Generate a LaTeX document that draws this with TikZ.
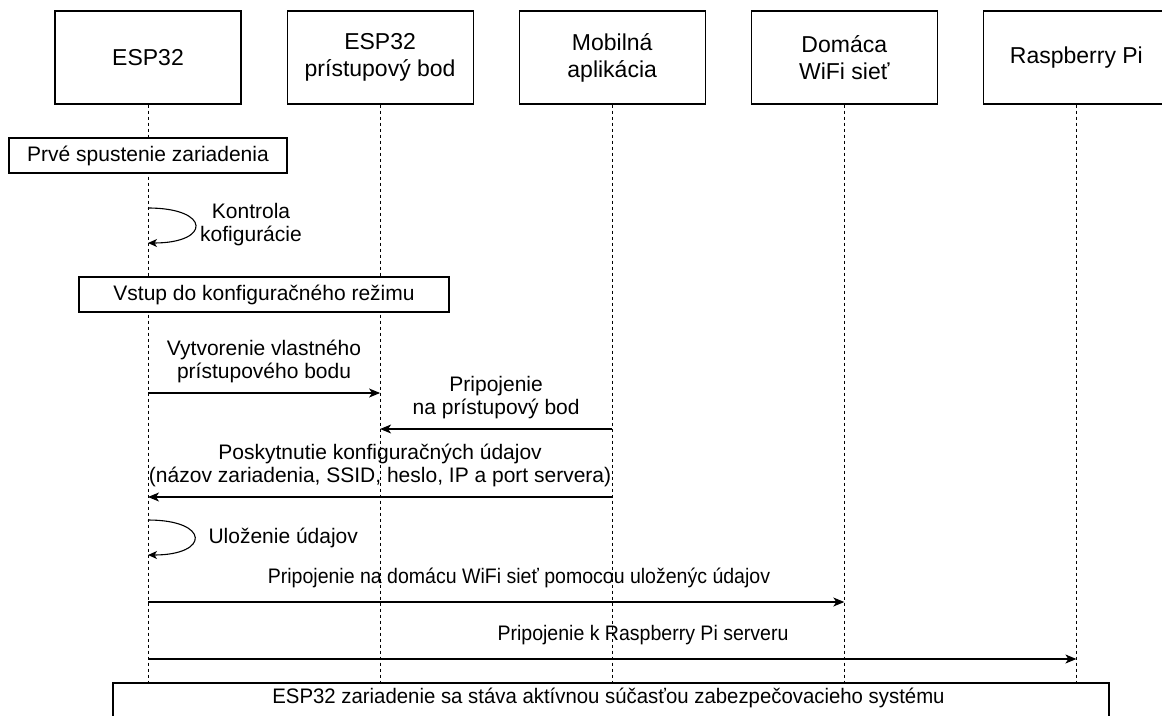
\documentclass[tikz,border=0pt]{standalone}
\usepackage{fontspec}
\setmainfont{Liberation Sans}
\usetikzlibrary{arrows.meta,positioning}

\begin{document}
\begin{tikzpicture}[x=1pt, y=-1pt, line width=1.1pt,
head/.style={draw, minimum width=186pt, minimum height=93pt, inner sep=0pt, align=center, font=\fontsize{23}{27}\selectfont},
note/.style={draw, fill=white, minimum height=35pt, inner sep=0pt, font=\fontsize{21}{23}\selectfont},
life/.style={line width=0.9pt, dash pattern=on 3pt off 3pt},
msg/.style={-{Stealth[length=11pt,width=9pt,inset=3pt]}},
self/.style={-{Stealth[length=9pt,width=8pt,inset=2.5pt]}},
lbl/.style={align=center, inner sep=0pt, font=\fontsize{21}{23}\selectfont}]
\useasboundingbox (0,0) rectangle (1162,715);
% participants
\node[head] (esp) at (148,57.5) {ESP32};
\node[head, right=45pt of esp] (ap) {ESP32\\prístupový bod};
\node[head, right=45pt of ap] (app) {Mobilná\\aplikácia};
\node[head, right=45pt of app] (wifi) {Domáca\\WiFi sieť};
\node[head, right=45pt of wifi] (rpi) {Raspberry Pi};
\coordinate (bot) at (0,690);
\foreach \p in {esp,ap,app,wifi,rpi}
    \draw[life] (\p.south) -- (\p.south |- bot);
% rows of the messages
\coordinate (l1a) at (0,208); \coordinate (l1b) at (0,243);
\coordinate (m1) at (0,393); \coordinate (m2) at (0,429);
\coordinate (m3) at (0,497);
\coordinate (l2a) at (0,520); \coordinate (l2b) at (0,555);
\coordinate (m4) at (0,602); \coordinate (m5) at (0,659);
% notes
\node[note, minimum width=278pt] (boot) at (148,155.5) {Prvé spustenie zariadenia};
\node[note, minimum width=370pt] (cfg) at (264,294.5) {Vstup do konfiguračného režimu};
\node[note, minimum width=996pt] (done) at (611,700.5) {};
\node[lbl, xscale=0.97, transform shape] (donetxt) at (608.5,698) {ESP32 zariadenie sa stáva aktívnou súčasťou zabezpečovacieho systému};
% self calls
\draw[self] (esp |- l1a) .. controls +(63,0) and +(63,0) .. (esp |- l1b);
\node[lbl] (chk) at (251,225) {Kontrola\\kofigurácie};
\draw[self] (esp |- l2a) .. controls +(62,0) and +(62,0) .. (esp |- l2b);
\node[lbl, anchor=west] (save) at (208,538) {Uloženie údajov};
% messages
\draw[msg] (esp |- m1) -- node[lbl, above=10pt] {Vytvorenie vlastného\\prístupového bodu} (ap |- m1);
\draw[msg] (app |- m2) -- node[lbl, above=10pt] {Pripojenie\\na prístupový bod} (ap |- m2);
\draw[msg] (app |- m3) -- node[lbl, above=10pt] {Poskytnutie konfiguračných údajov\\(názov zariadenia, SSID, heslo, IP a port servera)} (esp |- m3);
\draw[msg] (esp |- m4) -- (wifi |- m4);
\node[lbl, xscale=0.93, transform shape] (wifitxt) at (519,578) {Pripojenie na domácu WiFi sieť pomocou uloženýc údajov};
\draw[msg] (esp |- m5) -- (rpi |- m5);
\node[lbl, xscale=0.93, transform shape] (rpitxt) at (643,635) {Pripojenie k Raspberry Pi serveru};
\end{tikzpicture}
\end{document}
